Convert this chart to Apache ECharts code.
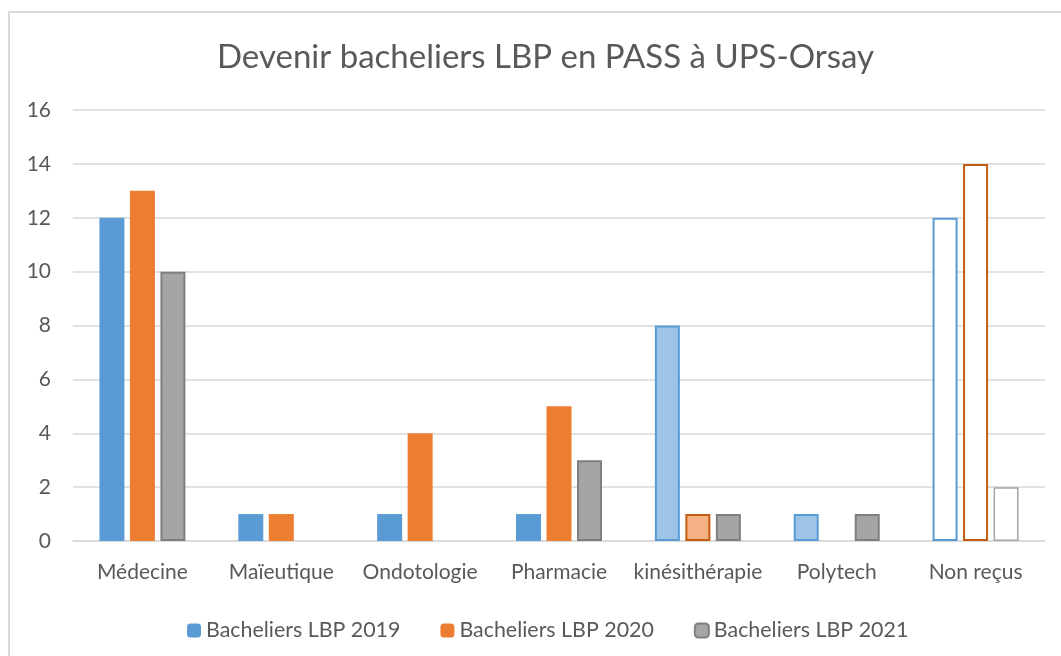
<!DOCTYPE html>
<html>
<head>
<meta charset="utf-8">
<script src="https://cdn.jsdelivr.net/npm/echarts@6/dist/echarts.min.js"></script>
<style>
  html, body { margin: 0; padding: 0; overflow: hidden; background: #fff; }
  #frame { position: absolute; left: 8px; top: 11px; width: 1080px; height: 680px; border: 2px solid #d9d9d9; }
  #chart { position: absolute; left: 0; top: 0; width: 1061px; height: 656px; }
</style>
</head>
<body>
<div id="frame"></div>
<div id="chart"></div>
<script>
const categories = ['Médecine', 'Maïeutique', 'Ondotologie', 'Pharmacie', 'kinésithérapie', 'Polytech', 'Non reçus'];
const seriesNames = ['Bacheliers LBP 2019', 'Bacheliers LBP 2020', 'Bacheliers LBP 2021'];
const values2019 = [12, 1, 1, 1, 8, 1, 12];
const values2020 = [13, 1, 4, 5, 1, 0, 14];
const values2021 = [10, 0, 0, 3, 1, 1, 2];

// per-bar looks (the reference highlights some bars by hand)
const styles2019 = {
  4: { color: '#9dc3e6', borderColor: '#5b9bd5', borderWidth: 2 },
  5: { color: '#9dc3e6', borderColor: '#5b9bd5', borderWidth: 2 },
  6: { color: '#fff', borderColor: '#5b9bd5', borderWidth: 2 }
};
const styles2020 = {
  4: { color: '#f4b183', borderColor: '#c55a11', borderWidth: 2 },
  6: { color: '#fff', borderColor: '#c55a11', borderWidth: 2 }
};
const styles2021 = {
  6: { color: '#fff', borderColor: '#a5a5a5', borderWidth: 1.5 }
};

const build = (vals, styles) => vals.map((v, i) => {
  if (v === 0) return { value: v, itemStyle: { borderWidth: 0 } };
  return styles[i] ? { value: v, itemStyle: styles[i] } : v;
});

const font = 'Lato';
const textColor = '#595959';

const chart = echarts.init(document.getElementById('chart'));
chart.setOption({
  animation: false,
  backgroundColor: 'transparent',
  title: {
    text: 'Devenir bacheliers LBP en PASS à UPS-Orsay',
    left: 212,
    top: 36,
    textStyle: { fontFamily: font, fontSize: 33, fontWeight: 'normal', color: textColor }
  },
  legend: {
    top: 615,
    left: 182,
    itemWidth: 14,
    itemHeight: 14,
    itemGap: 40,
    textStyle: { fontFamily: font, fontSize: 21.4, color: textColor },
    data: seriesNames
  },
  grid: { left: 73, right: 16, top: 110, bottom: 115, containLabel: false },
  xAxis: {
    type: 'category',
    data: categories,
    axisLine: { lineStyle: { color: '#d9d9d9', width: 1.5 } },
    axisTick: { show: false },
    axisLabel: { interval: 0, hideOverlap: false, fontFamily: font, fontSize: 21, color: textColor, margin: 21 }
  },
  yAxis: {
    type: 'value',
    min: 0,
    max: 16,
    interval: 2,
    axisLine: { show: false },
    axisTick: { show: false },
    axisLabel: { fontFamily: font, fontSize: 21, color: textColor, margin: 22 },
    splitLine: { lineStyle: { color: '#d9d9d9', width: 1.5 } }
  },
  series: [
    {
      name: seriesNames[0], type: 'bar', barWidth: 25, barGap: '22%',
      itemStyle: { color: '#5b9bd5' },
      data: build(values2019, styles2019)
    },
    {
      name: seriesNames[1], type: 'bar', barWidth: 25, barGap: '22%',
      itemStyle: { color: '#ed7d31' },
      data: build(values2020, styles2020)
    },
    {
      name: seriesNames[2], type: 'bar', barWidth: 25, barGap: '22%',
      itemStyle: { color: '#a5a5a5', borderColor: '#7f7f7f', borderWidth: 2 },
      data: build(values2021, styles2021)
    }
  ]
});
</script>
</body>
</html>
